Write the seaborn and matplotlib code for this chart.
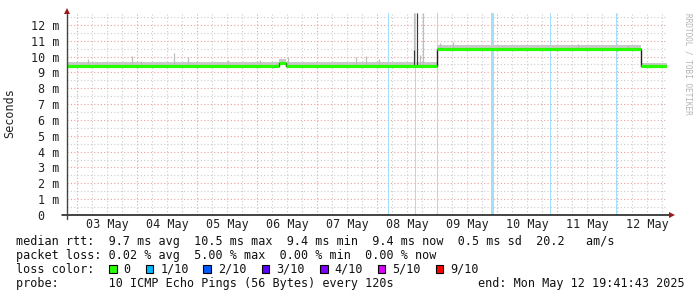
import matplotlib
matplotlib.use("Agg")
import matplotlib.pyplot as plt
import matplotlib.dates as mdates
import matplotlib.transforms as mtrans
from matplotlib.ticker import MultipleLocator, FixedLocator, NullFormatter
from matplotlib.patches import Rectangle
import numpy as np
import pandas as pd
import seaborn as sns

# ---------------- data ----------------
start_time = "2025-05-02 19:41:43"
end_time = "2025-05-12 19:41:43"

# median rtt (ms) - step changes
median_times = ["2025-05-02 19:41", "2025-05-06 08:40", "2025-05-06 11:15",
                "2025-05-09 00:00", "2025-05-12 09:20", "2025-05-12 19:41"]
median_vals = [9.39, 9.62, 9.39, 10.45, 9.40, 9.40]
smoke_spread = [0.27, 0.22, 0.27, 0.27, 0.2, 0.2]

# smoke spikes (ms)
spike_times = ["2025-05-03 04:13", "2025-05-03 07:42", "2025-05-03 21:42",
               "2025-05-04 01:24", "2025-05-04 14:42", "2025-05-04 20:18",
               "2025-05-05 12:12", "2025-05-06 01:00", "2025-05-06 12:18",
               "2025-05-07 15:25", "2025-05-07 19:25", "2025-05-08 00:43",
               "2025-05-08 14:43", "2025-05-08 15:48", "2025-05-08 17:00",
               "2025-05-08 18:20", "2025-05-09 01:00", "2025-05-09 06:20",
               "2025-05-11 08:12", "2025-05-12 04:12"]
spike_tops = [9.83, 9.68, 10.04, 9.70, 10.25, 9.96, 9.79, 9.79, 10.00,
              10.00, 10.04, 9.83, 12.75, 12.75, 10.10, 12.75, 10.88, 10.95,
              10.80, 10.74]
dark_spike_times = ["2025-05-08 14:43", "2025-05-08 15:48"]
dark_spike_tops = [10.42, 12.75]

# packet loss events (1/10)
loss_times = ["2025-05-08 04:15", "2025-05-08 15:00", "2025-05-08 23:55",
              "2025-05-09 21:20", "2025-05-10 21:00", "2025-05-11 23:35"]
loss_minutes = [24, 24, 24, 72, 24, 24]

day_labels = ["03 May", "04 May", "05 May", "06 May", "07 May",
              "08 May", "09 May", "10 May", "11 May", "12 May"]
y_ticks = list(range(13))
y_tick_labels = ["0  "] + [f"{v} m" for v in range(1, 13)]

legend_labels = ["0", "1/10", "2/10", "3/10", "4/10", "5/10", "9/10"]
legend_colors = ["#26ff00", "#00b8ff", "#0059ff", "#5e00ff", "#7e00ff",
                 "#dd00ff", "#ff0000"]

stat_line1 = "median rtt:  9.7 ms avg  10.5 ms max  9.4 ms min  9.4 ms now  0.5 ms sd  20.2   am/s"
stat_line2 = "packet loss: 0.02 % avg  5.00 % max  0.00 % min  0.00 % now"
stat_line3 = "loss color:"
stat_line4 = "probe:       10 ICMP Echo Pings (56 Bytes) every 120s"
end_text = "end: Mon May 12 19:41:43 2025"
y_title = "Seconds"
side_text = "RRDTOOL / TOBI OETIKER"

# ---------------- styling ----------------
sns.set_style("white")
plt.rcParams['font.family'] = ['DejaVu Sans Mono']
FS = 8.5
W, H = 697, 297

fig = plt.figure(figsize=(W / 100, H / 100), dpi=100)
fig.patch.set_facecolor("white")
ax_left, ax_right, ax_top, ax_bot = 66.7, 666.7, 13.0, 215.0
ax = fig.add_axes([ax_left / W, 1 - ax_bot / H, (ax_right - ax_left) / W,
                   (ax_bot - ax_top) / H])
ax.set_facecolor("white")

t0 = pd.Timestamp(start_time)
t1 = pd.Timestamp(end_time)
ax.set_xlim(t0, t1)
ax.set_ylim(0, 12.75)

df = pd.DataFrame({"t": pd.to_datetime(median_times), "v": median_vals,
                   "s": smoke_spread})
tnum = mdates.date2num(df["t"])

# loss bars
for lt, lm in zip(loss_times, loss_minutes):
    ls = pd.Timestamp(lt)
    ax.axvspan(ls, ls + pd.Timedelta(minutes=lm), color="#a4def9", lw=0,
               zorder=1)

# smoke band
ax.fill_between(tnum, df["v"], df["v"] + df["s"], step="post",
                color="#c9c9c9", lw=0, zorder=2)


def median_at(t):
    i = np.searchsorted(tnum, t, side="right") - 1
    return df["v"].iloc[max(i, 0)]


st = mdates.date2num(pd.to_datetime(spike_times))
ax.vlines(st, [median_at(x) for x in st], spike_tops, color="#bdbdbd",
          lw=0.9, zorder=2)
dt = mdates.date2num(pd.to_datetime(dark_spike_times))
ax.vlines(dt, [median_at(x) for x in dt], dark_spike_tops, color="#3a3a3a",
          lw=0.8, zorder=3)

# median line (black steps beneath, green level segments)
sns.lineplot(data=df, x="t", y="v", drawstyle="steps-post", color="#202020",
             lw=1.0, ax=ax, zorder=4, legend=False)
ax.hlines(df["v"].iloc[:-1], tnum[:-1], tnum[1:], color=legend_colors[0],
          lw=2.3, zorder=5)

# grid
ax.xaxis.set_major_locator(mdates.DayLocator())
ax.xaxis.set_minor_locator(mdates.HourLocator(byhour=[0, 6, 12, 18]))
ax.xaxis.set_major_formatter(NullFormatter())
ax.yaxis.set_major_locator(FixedLocator(y_ticks))
ax.yaxis.set_minor_locator(MultipleLocator(0.5))
ax.set_yticklabels(y_tick_labels, fontsize=FS, color="#222222")
ax.grid(which="major", axis="both", color="#eaa0a0", linestyle=(0, (1, 2)),
        lw=0.8, zorder=0)
ax.grid(which="minor", axis="both", color="#cccccc", linestyle=(0, (1, 2)),
        lw=0.8, zorder=0)
ax.set_axisbelow(True)
ax.tick_params(axis="x", which="major", direction="out", length=3,
               color="#d05050", width=0.8)
ax.tick_params(axis="x", which="minor", direction="out", length=2,
               color="#bbbbbb", width=0.8)
ax.tick_params(axis="y", which="major", direction="out", length=2.5,
               color="#444444", width=0.8, pad=2.5)
ax.tick_params(axis="y", which="minor", direction="out", length=1.5,
               color="#888888", width=0.8)
ax.set_xlabel("")
ax.set_ylabel("")
for sp in ax.spines.values():
    sp.set_visible(False)

# axis lines with arrows
ax.plot([-5 / 600, 1.005], [0, 0], transform=ax.transAxes, color="#111111",
        lw=1.1, clip_on=False, zorder=6)
ax.plot([0, 0], [-4 / 202, 1.0], transform=ax.transAxes, color="#444444",
        lw=1.0, clip_on=False, zorder=6)
ax.plot([1.008], [0], marker=">", ms=5, color="#9a1a1a", transform=ax.transAxes,
        clip_on=False, zorder=7, mew=0)
ax.plot([0], [1.012], marker="^", ms=5, color="#9a1a1a", transform=ax.transAxes,
        clip_on=False, zorder=7, mew=0)

# day labels at noon
blend = mtrans.blended_transform_factory(ax.transData, fig.transFigure)
first_day = pd.Timestamp("2025-05-03 12:00")
for i, lab in enumerate(day_labels):
    ax.text(first_day + pd.Timedelta(days=i), 1 - 227.7 / H, lab,
            transform=blend, ha="center", va="baseline", fontsize=FS,
            color="#222222")

# y title and side text
fig.text(10 / W, 1 - 113 / H, y_title, rotation=90, ha="center", va="center",
         fontsize=FS, color="#222222")
fig.text(688 / W, 1 - 64 / H, side_text, rotation=270, ha="center",
         va="center", fontsize=5.6, color="#b4b4b4")

# stats text
tx = 16 / W
fig.text(tx, 1 - 245 / H, stat_line1, fontsize=FS, va="baseline",
         color="#111111")
fig.text(tx, 1 - 258.8 / H, stat_line2, fontsize=FS, va="baseline",
         color="#111111")
fig.text(tx, 1 - 272.7 / H, stat_line3, fontsize=FS, va="baseline",
         color="#111111")
fig.text(tx, 1 - 286.6 / H, stat_line4, fontsize=FS, va="baseline",
         color="#111111")
fig.text(478.3 / W, 1 - 286.6 / H, end_text, fontsize=FS, va="baseline",
         color="#111111")

sq_x = [109, 145.7, 203, 261.7, 320, 377.7, 435.7]
lab_x = [123.3, 160.7, 218.3, 276.3, 334.3, 392.3, 450]
for c, lab, sx, lx in zip(legend_colors, legend_labels, sq_x, lab_x):
    fig.patches.append(Rectangle((sx / W, 1 - 272.7 / H), 7.7 / W, 8 / H,
                                 transform=fig.transFigure, facecolor=c,
                                 edgecolor="black", lw=0.8))
    fig.text(lx / W, 1 - 272.7 / H, lab, fontsize=FS, va="baseline",
             color="#111111")

fig.savefig("out.png", dpi=100, facecolor="white")
